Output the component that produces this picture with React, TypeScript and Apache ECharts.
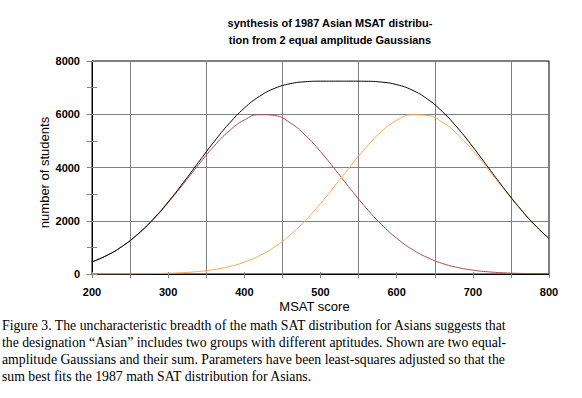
import React, { useEffect, useRef } from "react";
import * as echarts from "echarts";

// MSAT score grid (x values)
const scores = [200, 220, 240, 260, 280, 300, 320, 340, 360, 380, 400, 420, 440, 460, 480, 500, 520, 540, 560, 580, 600, 620, 640, 660, 680, 700, 720, 740, 760, 780, 800];
// lower Gaussian (red)
const lowGauss = [456, 704, 1044, 1488, 2036, 2679, 3385, 4109, 4794, 5372, 5785, 5985, 5950, 5682, 5214, 4597, 3894, 3169, 2477, 1861, 1343, 932, 621, 397, 244, 145, 82, 45, 23, 12, 6];
// upper Gaussian (orange)
const highGauss = [0, 1, 3, 7, 14, 28, 52, 95, 165, 277, 446, 690, 1025, 1463, 2007, 2645, 3349, 4074, 4762, 5347, 5769, 5981, 5957, 5700, 5241, 4630, 3930, 3205, 2511, 1870, 1330];
// sum (black)
const sumCurve = [456, 705, 1047, 1495, 2050, 2707, 3437, 4204, 4959, 5649, 6231, 6675, 6975, 7145, 7221, 7242, 7243, 7243, 7239, 7208, 7112, 6913, 6578, 6097, 5485, 4775, 4012, 3250, 2534, 1882, 1336];

const titleLines = ["synthesis of 1987 Asian MSAT distribu-", "tion from 2 equal amplitude Gaussians"];
const xName = "MSAT score";
const yName = "number of students";
const captionLines = [
  "Figure 3. The uncharacteristic breadth of the math SAT distribution for Asians suggests that",
  "the designation \u201cAsian\u201d includes two groups with different aptitudes. Shown are two equal-",
  "amplitude Gaussians and their sum. Parameters have been least-squares adjusted so that the",
  "sum best fits the 1987 math SAT distribution for Asians.",
];

const SANS = "'Liberation Sans', Arial, sans-serif";
const GRAY = "#808080";

export default function App() {
  const ref = useRef<HTMLDivElement>(null);
  useEffect(() => {
    if (!ref.current) return;
    const chart = echarts.init(ref.current, null, { renderer: "svg" });
    const pair = (ys: number[]) => scores.map((x, i) => [x, ys[i]]);
    const xCommon = {
      type: "value",
      min: 200,
      max: 800,
      interval: 100,
      position: "bottom",
    };
    const yCommon = {
      type: "value",
      min: 0,
      max: 8000,
      interval: 2000,
      position: "left",
    };
    const labelStyle = {
      fontFamily: SANS,
      fontSize: 11,
      fontWeight: "bold",
      color: "#000",
      formatter: (v: number) => String(v),
    };
    chart.setOption({
      animation: false,
      backgroundColor: "#ffffff",
      title: {
        text: titleLines.join("\n"),
        left: 325,
        top: 9,
        textAlign: "center",
        textStyle: {
          fontFamily: SANS,
          fontSize: 11,
          fontWeight: "bold",
          color: "#000",
          lineHeight: 17,
        },
      },
      grid: {
        left: 92,
        right: 33,
        top: 61,
        bottom: 124,
        show: true,
        borderColor: "#000",
        borderWidth: 1,
        backgroundColor: "transparent",
      },
      xAxis: [
        {
          ...xCommon,
          name: xName,
          nameLocation: "middle",
          nameGap: 26,
          nameMoveOverlap: false,
          nameTextStyle: { fontFamily: SANS, fontSize: 13, color: "#000", padding: [0, 12, 0, 0] },
          axisLine: { show: true, onZero: false, lineStyle: { color: "#000", width: 1 } },
          axisTick: { show: true, length: 4, lineStyle: { color: GRAY } },
          minorTick: { show: true, splitNumber: 2, length: 4, lineStyle: { color: GRAY } },
          axisLabel: { margin: 12, ...labelStyle },
          splitLine: { show: false },
          minorSplitLine: { show: true, lineStyle: { color: GRAY, width: 1 } },
        },
        {
          ...xCommon,
          axisLine: { show: false },
          axisTick: { show: true, inside: true, length: 2, lineStyle: { color: GRAY } },
          minorTick: { show: true, splitNumber: 2, length: 2, lineStyle: { color: GRAY } },
          axisLabel: { show: false },
          splitLine: { show: false },
        },
      ],
      yAxis: [
        {
          ...yCommon,
          name: yName,
          nameLocation: "middle",
          nameGap: 41,
          nameMoveOverlap: false,
          nameTextStyle: { fontFamily: SANS, fontSize: 13, color: "#000", padding: [0, 10, 0, 0] },
          axisLine: { show: true, lineStyle: { color: "#000", width: 1 } },
          axisTick: { show: true, length: 5, lineStyle: { color: GRAY } },
          minorTick: { show: true, splitNumber: 2, length: 5, lineStyle: { color: GRAY } },
          axisLabel: { margin: 12, ...labelStyle },
          splitLine: { show: true, showMinLine: false, showMaxLine: false, lineStyle: { color: GRAY, width: 1 } },
        },
        {
          ...yCommon,
          offset: 0,
          axisLine: { show: false },
          axisTick: { show: true, inside: true, length: 5, lineStyle: { color: GRAY } },
          minorTick: { show: true, splitNumber: 2, length: 5, lineStyle: { color: GRAY } },
          axisLabel: { show: false },
          splitLine: { show: false },
        },
      ],
      series: [
        {
          type: "line",
          name: "low",
          data: pair(lowGauss),
          smooth: true,
          showSymbol: false,
          lineStyle: { color: "#A84848", width: 1 },
        },
        {
          type: "line",
          name: "high",
          data: pair(highGauss),
          smooth: true,
          showSymbol: false,
          lineStyle: { color: "#FFA54A", width: 1 },
        },
        {
          type: "line",
          name: "sum",
          data: pair(sumCurve),
          smooth: true,
          showSymbol: false,
          lineStyle: { color: "#000000", width: 1 },
        },
      ],
    });
    return () => chart.dispose();
  }, []);

  return (
    <div style={{ position: "fixed", left: 0, top: 0, width: 582, height: 398, background: "#fff", overflow: "hidden" }}>
      <div ref={ref} style={{ position: "absolute", left: 0, top: 0, width: 582, height: 398 }} />
      <div
        style={{
          position: "absolute",
          left: 2,
          top: 317,
          fontFamily: "'Liberation Serif', 'Times New Roman', serif",
          fontSize: 13.75,
          lineHeight: "17px",
          color: "#000",
          whiteSpace: "pre",
        }}
      >
        {captionLines.map((l, i) => (
          <div key={i}>{l}</div>
        ))}
      </div>
    </div>
  );
}
